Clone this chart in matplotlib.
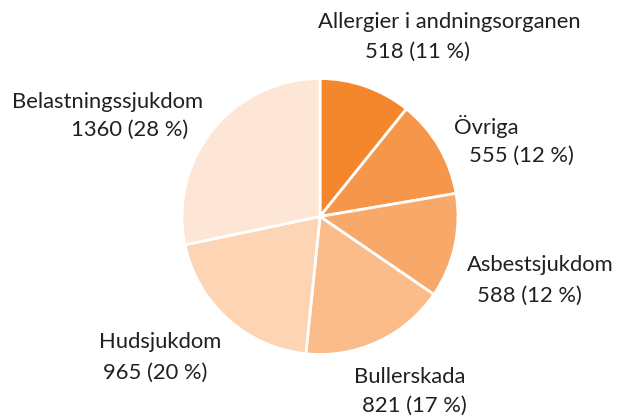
import matplotlib
matplotlib.use("Agg")
import matplotlib.pyplot as plt

categories = ["Allergier i andningsorganen", "Övriga", "Asbestsjukdom",
              "Bullerskada", "Hudsjukdom", "Belastningssjukdom"]
values = [518, 555, 588, 821, 965, 1360]
percent_labels = ["518 (11 %)", "555 (12 %)", "588 (12 %)",
                  "821 (17 %)", "965 (20 %)", "1360 (28 %)"]
colors = ["#F4862C", "#F6964A", "#F8A868", "#FBBC8A", "#FDD5B4", "#FEE6D6"]

W, H = 624, 419
fig = plt.figure(figsize=(W / 100, H / 100), dpi=100)
ax = fig.add_axes([0, 0, 1, 1])
ax.set_xlim(0, W)
ax.set_ylim(0, H)
ax.set_aspect("equal")
ax.axis("off")

ax.pie(values, colors=colors, startangle=90, counterclock=False,
       center=(320, H - 216.5), radius=138,
       wedgeprops=dict(edgecolor="white", linewidth=2))
ax.set_xlim(0, W)
ax.set_ylim(0, H)

# label anchors (pixel coords, left edges / vertical centers)
name_pos = [(318, 22), (454, 126), (467, 265), (354, 377), (99, 342), (12, 102)]
val_pos = [(365, 52), (469, 156), (477, 296), (362, 406), (103, 373), (71, 130)]

font = dict(family="Lato", fontsize=15.8, color="#231F20")
for name, (x, y) in zip(categories, name_pos):
    ax.text(x, H - y, name, ha="left", va="center", **font)
for lab, (x, y) in zip(percent_labels, val_pos):
    ax.text(x, H - y, lab, ha="left", va="center", **font)

fig.savefig("out.png", dpi=100)
